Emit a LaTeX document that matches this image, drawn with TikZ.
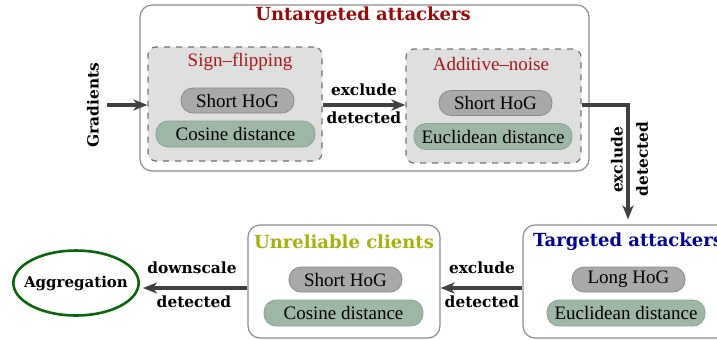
\documentclass[tikz,border=0pt]{standalone}
\usepackage{fontspec}
\setmainfont{Liberation Serif}
\newfontfamily\labelfont{DejaVu Serif}
\usetikzlibrary{arrows.meta, shapes.geometric}

\definecolor{untargred}{HTML}{9A0A0A}
\definecolor{subred}{HTML}{A81818}
\definecolor{targblue}{HTML}{00009A}
\definecolor{unrelolive}{HTML}{A8B00C}
\definecolor{agggreen}{HTML}{0B650B}
\definecolor{hogfill}{HTML}{A9A9A9}
\definecolor{hogdraw}{HTML}{8A8A8A}
\definecolor{distfill}{HTML}{9DB6A6}
\definecolor{distdraw}{HTML}{86A593}
\definecolor{subfill}{HTML}{DFDFDF}
\definecolor{arrowgray}{HTML}{404040}

\tikzset{
	groupbox/.style={draw=black!45, rounded corners=6pt, line width=0.6pt, inner sep=0pt},
	subbox/.style={draw=black!55, fill=subfill, dashed, rounded corners=4pt, line width=0.6pt, inner sep=0pt, minimum width=87pt, minimum height=57pt},
	hogpill/.style={draw=hogdraw, fill=hogfill, rounded corners=6pt, minimum width=56.5pt, minimum height=12.5pt, inner sep=0pt, font=\fontsize{9.5}{10}\selectfont},
	distpill/.style={draw=distdraw, fill=distfill, rounded corners=6pt, minimum height=13pt, inner sep=0pt, font=\fontsize{9.5}{10}\selectfont},
	grouptitle/.style={font=\labelfont\bfseries\fontsize{9}{10}\selectfont},
	subtitle/.style={text=subred, font=\fontsize{9.5}{10}\selectfont},
	edgelabel/.style={font=\labelfont\bfseries\fontsize{7.7}{9}\selectfont},
	flow/.style={draw=arrowgray, line width=1.6pt, -{Stealth[length=7pt,width=5.5pt,inset=2pt]}}
}

\begin{document}
\begin{tikzpicture}[x=0.5pt, y=-0.5pt]

\useasboundingbox (0,0) rectangle (717,339);

% untargeted attackers
\node[groupbox, minimum width=224.5pt, minimum height=83pt] (untarg) at (364.5,88) {};
\node[grouptitle, text=untargred] (untargtitle) at (363,16) {Untargeted attackers};

\node[subbox] (sign) at (235,104) {};
\node[subtitle] (signtitle) at (240,62) {Sign--flipping};
\node[hogpill] (signhog) at (237.5,100.5) {Short HoG};
\node[distpill, minimum width=79.5pt] (signdist) at (235.5,134) {Cosine distance};

\node[subbox, minimum width=87.5pt] (add) at (493.5,106) {};
\node[subtitle] (addtitle) at (491,64) {Additive--noise};
\node[hogpill] (addhog) at (495.5,103) {Short HoG};
\node[distpill, minimum width=79pt] (adddist) at (493,136.5) {Euclidean distance};

% targeted attackers
\node[groupbox, minimum width=105pt, minimum height=56.5pt] (targ) at (628,281.5) {};
\node[grouptitle, text=targblue] (targtitle) at (628,242) {Targeted attackers};
\node[hogpill] (targhog) at (628.5,279.5) {Long HoG};
\node[distpill, minimum width=79pt] (targdist) at (626,313) {Euclidean distance};

% unreliable clients
\node[groupbox, minimum width=96pt, minimum height=56.5pt] (unrel) at (344,281.5) {};
\node[grouptitle, text=unrelolive] (unreltitle) at (344,242) {Unreliable clients};
\node[hogpill] (unrelhog) at (345.5,279.5) {Short HoG};
\node[distpill, minimum width=79.5pt] (unreldist) at (343.5,313) {Cosine distance};

% aggregation
\node[draw=agggreen, line width=1.3pt, ellipse, inner xsep=-3.8pt, inner ysep=7.8pt,
	font=\labelfont\bfseries\fontsize{7.5}{9}\selectfont] (agg) at (76,283) {Aggregation};

% connectors
\coordinate (gradstart) at (107,105);
\node[edgelabel, rotate=90] (gradlabel) at (93,105) {Gradients};
\draw[flow] (gradstart) -- (sign.west |- gradstart);

\draw[flow] (sign.east |- gradstart) -- (add.west |- gradstart);
\node[edgelabel] (excl1) at (364,90) {exclude};
\node[edgelabel] (det1) at (364,118) {detected};

\draw[flow, shorten >=2.5pt] (add.east |- gradstart) -| (targ.north);
\node[edgelabel, rotate=90] (excl2) at (617,160) {exclude};
\node[edgelabel, rotate=90] (det2) at (642,159) {detected};

\draw[flow] ([yshift=-3.25pt]targ.west) -- ([yshift=-3.25pt]unrel.east);
\node[edgelabel] (excl3) at (482,268) {exclude};
\node[edgelabel] (det3) at (482,302) {detected};

\draw[flow, shorten >=1.5pt] ([yshift=-3.25pt]unrel.west) -- ([yshift=-2.5pt]agg.east);
\node[edgelabel] (down4) at (192,268) {downscale};
\node[edgelabel] (det4) at (194,302) {detected};

\end{tikzpicture}
\end{document}
